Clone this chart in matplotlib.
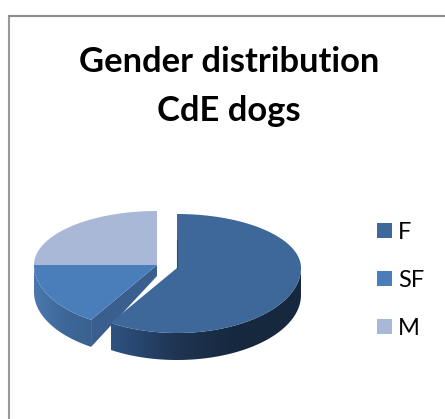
import numpy as np
import matplotlib
matplotlib.use("Agg")
import matplotlib.pyplot as plt
from matplotlib.colors import LinearSegmentedColormap
from matplotlib.patches import Polygon, Rectangle

titulo = ["Gender distribution", "CdE dogs"]
categorias = ["F", "SF", "M"]
valores = [59, 16, 25]
colores = ["#3d6899", "#4a7ebb", "#a9b8d6"]
# degradado del borde lateral, de izquierda a derecha
lados = {"F": ["#2f5382", "#1f3553", "#16283e", "#16283e"], "SF": ["#4a78ae", "#3e6899", "#3a618f"]}

# geometria del pastel en pixeles
centro = {"F": (177, 268), "SF": (157, 265), "M": (157, 265)}
radio_x = {"F": 124, "SF": 123, "M": 123}
radio_arriba = 54
radio_abajo = 65
grosor = 27


def punto(cat, ang):
    # ang en grados, desde las 12 en sentido horario
    a = np.radians(ang)
    cx, cy = centro[cat]
    ry = np.where(np.cos(a) > 0, radio_arriba, radio_abajo)
    return cx + radio_x[cat] * np.sin(a), cy - ry * np.cos(a)


fig = plt.figure(figsize=(4.45, 4.19), dpi=100)
ax = fig.add_axes([0, 0, 1, 1])
ax.set_xlim(0, 445)
ax.set_ylim(419, 0)
ax.axis("off")

# marco del grafico
ax.plot([8.5, 8.5], [419, 16.5], color="#9a9a9a", lw=1.5)
ax.plot([8.5, 445], [16.5, 16.5], color="#8c8c8c", lw=1.5)

# angulos de cada porcion a partir de los valores
fin = np.cumsum(valores) / sum(valores) * 360
ini = np.concatenate([[0], fin[:-1]])
angulos = {c: (a, b) for c, a, b in zip(categorias, ini, fin)}

# cara del corte de SF
a0, a1 = angulos["SF"]
cx, cy = centro["SF"]
x_fin, y_fin = punto("SF", a0)
ax.add_patch(Polygon([(cx, cy), (x_fin, y_fin), (x_fin, y_fin + grosor), (cx, cy + 11)],
                     fc="#3a5f8e", ec="none", zorder=2))

# lateral curvo con degradado recortado
for cat in ["SF", "F"]:
    a0, a1 = angulos[cat]
    angs = np.linspace(max(a0, 90), min(a1, 270), 150)
    xs, ys = punto(cat, angs)
    verts = list(zip(xs, ys)) + list(zip(xs[::-1], ys[::-1] + grosor))
    z = 3 if cat == "SF" else 4
    lado = Polygon(verts, fc="none", ec="none", transform=ax.transData)
    ax.add_patch(lado)
    mapa = LinearSegmentedColormap.from_list(cat, lados[cat])
    im = ax.imshow(np.linspace(0, 1, 256).reshape(1, -1), cmap=mapa, aspect="auto", zorder=z,
                   extent=[xs.min(), xs.max(), ys.max() + grosor, ys.min()])
    im.set_clip_path(lado)
ax.set_xlim(0, 445)
ax.set_ylim(419, 0)

# caras superiores
for cat, color in zip(categorias, colores):
    a0, a1 = angulos[cat]
    angs = np.linspace(a0, a1, 200)
    xs, ys = punto(cat, angs)
    verts = [centro[cat]] + list(zip(xs, ys))
    z = 3.5 if cat != "F" else 5
    ax.add_patch(Polygon(verts, fc=color, ec="none", zorder=z))

# borde oscuro del corte de F
cx, cy = centro["F"]
ax.plot([cx, cx], [cy - 28, cy], color="#2b4a70", lw=0.8, zorder=6)

# titulo
for linea, yb in zip(titulo, [72, 121]):
    ax.text(229, yb, linea, ha="center", va="baseline", family="Lato", fontweight="bold",
            fontsize=24.8, color="black")

# leyenda
ys_leyenda = [230.5, 278.5, 326.5]
for cat, color, yl in zip(categorias, colores, ys_leyenda):
    ax.add_patch(Rectangle((377, yl - 7.5), 15, 15, fc=color, ec="none"))
    ax.text(398, yl + 8, cat, ha="left", va="baseline", family="Lato", fontsize=17, color="black")

fig.savefig("out.png", dpi=100)
